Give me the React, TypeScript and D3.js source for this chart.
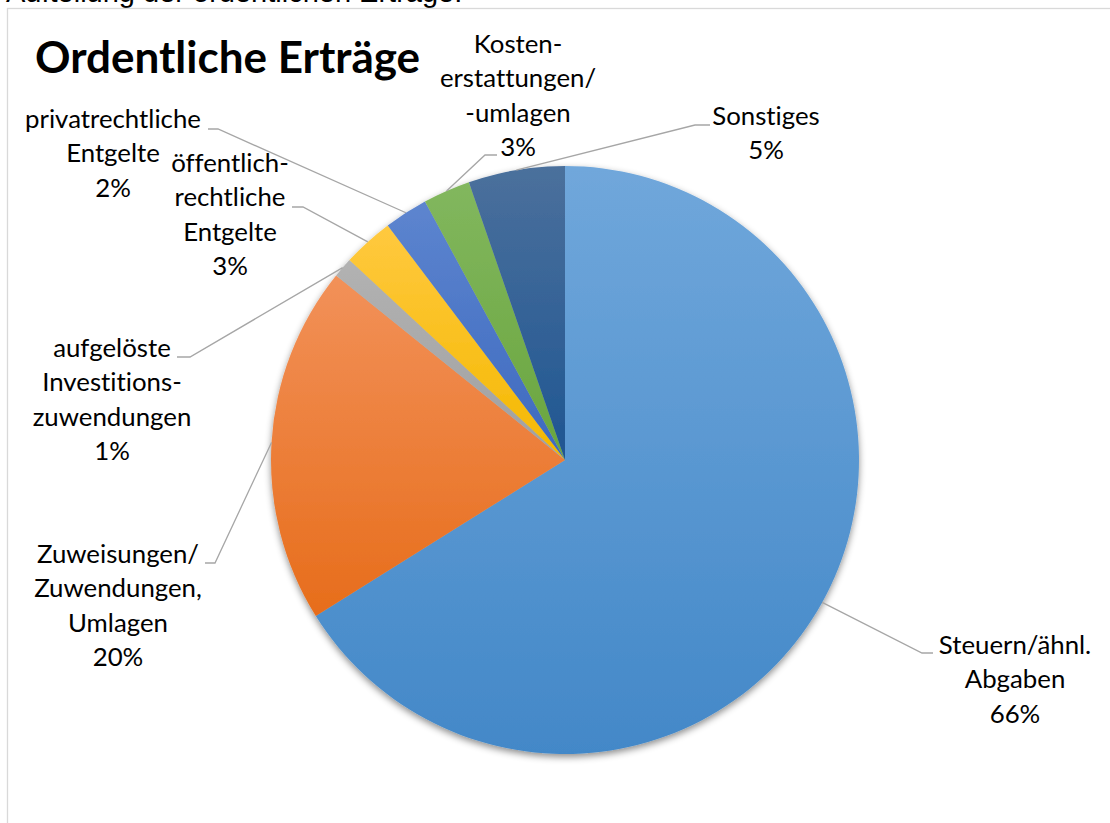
import React from "react";
import * as d3 from "d3";

// ---- data ----
const categories = [
  "Steuern/ähnl. Abgaben",
  "Zuweisungen/ Zuwendungen, Umlagen",
  "aufgelöste Investitionszuwendungen",
  "öffentlich-rechtliche Entgelte",
  "privatrechtliche Entgelte",
  "Kostenerstattungen/ -umlagen",
  "Sonstiges",
];
const labelLines = [
  ["Steuern/ähnl.", "Abgaben"],
  ["Zuweisungen/", "Zuwendungen,", "Umlagen"],
  ["aufgelöste", "Investitions-", "zuwendungen"],
  ["öffentlich-", "rechtliche", "Entgelte"],
  ["privatrechtliche", "Entgelte"],
  ["Kosten-", "erstattungen/", "-umlagen"],
  ["Sonstiges"],
];
const values = [66.1, 19.7, 1.1, 2.8, 2.4, 2.6, 5.3];
const colorsTop = ["#70A7DB", "#F29159", "#B2B2B2", "#FFC93F", "#5D85CF", "#82B75E", "#4B709C"];
const colorsBottom = ["#4388C8", "#E76D1B", "#A0A0A0", "#F4B800", "#3D69BF", "#69A53E", "#1F5692"];
const titleText = "Ordentliche Erträge";
const headerText = "Aufteilung der ordentlichen Erträge:";

// ---- layout (label placement) ----
const labelLayout = [
  { cx: 1015, y0: 654, elbow: [922, 653], end: [933, 653] },
  { cx: 118, y0: 563, elbow: [215, 563], end: [205, 563] },
  { cx: 112, y0: 357, elbow: [190, 357], end: [177, 357] },
  { cx: 230, y0: 172, elbow: [303, 207], end: [292, 207] },
  { cx: 113, y0: 128, elbow: [218, 129], end: [208, 129] },
  { cx: 518, y0: 53, elbow: [485, 155], end: [497, 155] },
  { cx: 766, y0: 125, elbow: [695, 125], end: [710, 125] },
];

const W = 1110;
const H = 823;
const CX = 565;
const CY = 460;
const R = 294;
const LINE_H = 34.3;
const FONT = "Lato, 'Open Sans', sans-serif";
const noLig = { fontVariantLigatures: "none", fontFeatureSettings: "'liga' 0, 'clig' 0" } as React.CSSProperties;

export default function App() {
  const total = d3.sum(values);
  const pie = d3
    .pie<number>()
    .sort(null)
    .value((d) => d)
    .startAngle(0)
    .endAngle(2 * Math.PI);
  const arcs = pie(values);
  const arcGen = d3.arc<d3.PieArcDatum<number>>().innerRadius(0).outerRadius(R);
  const edgeGen = d3.arc<d3.PieArcDatum<number>>().innerRadius(R).outerRadius(R);
  const pct = (v: number) => `${Math.round((v / total) * 100)}%`;

  return (
    <svg
      width={W}
      height={H}
      style={{ position: "absolute", left: 0, top: 0, background: "#fff" }}
    >
      <defs>
        {arcs.map((a, i) => (
          <linearGradient key={i} id={`g${i}`} x1="0" y1="0" x2="0" y2="1">
            <stop offset="0" stopColor={colorsTop[i]} />
            <stop offset="1" stopColor={colorsBottom[i]} />
          </linearGradient>
        ))}
        <filter id="shadow" x="-10%" y="-10%" width="120%" height="125%">
          <feDropShadow dx="0" dy="3" stdDeviation="3.5" floodColor="#000" floodOpacity="0.45" />
        </filter>
      </defs>
      <rect x={0} y={0} width={W} height={H} fill="#fff" />
      <text
        x={6}
        y={2}
        fontFamily="'Liberation Sans', Arial, sans-serif"
        fontSize={29}
        fill="#000"
      >
        {headerText}
      </text>
      <rect x={7.5} y={8.5} width={W + 20} height={H + 20} fill="none" stroke="#D9D9D9" strokeWidth={1.3} />
      <text
        x={35}
        y={73}
        fontFamily={FONT}
        fontWeight={700}
        fontSize={44}
        fill="#000"
        style={noLig}
      >
        {titleText}
      </text>
      <g transform={`translate(${CX},${CY})`} filter="url(#shadow)">
        {arcs.map((a, i) => (
          <path key={categories[i]} d={arcGen(a) || ""} fill={`url(#g${i})`} />
        ))}
      </g>
      <g>
        {arcs.map((a, i) => {
          const [sx, sy] = edgeGen.centroid(a);
          const L = labelLayout[i];
          const pts: [number, number][] = [
            [CX + sx, CY + sy],
            [L.elbow[0], L.elbow[1]],
            [L.end[0], L.end[1]],
          ];
          return (
            <path
              key={i}
              d={d3.line()(pts) || ""}
              fill="none"
              stroke="#A6A6A6"
              strokeWidth={1.3}
            />
          );
        })}
      </g>
      <g fontFamily={FONT} fontSize={25.8} fill="#000" textAnchor="middle" style={noLig}>
        {arcs.map((a, i) => {
          const L = labelLayout[i];
          const lines = [...labelLines[i], pct(values[i])];
          return (
            <text key={i}>
              {lines.map((t, j) => (
                <tspan key={j} x={L.cx} y={L.y0 + j * LINE_H}>
                  {t}
                </tspan>
              ))}
            </text>
          );
        })}
      </g>
    </svg>
  );
}
